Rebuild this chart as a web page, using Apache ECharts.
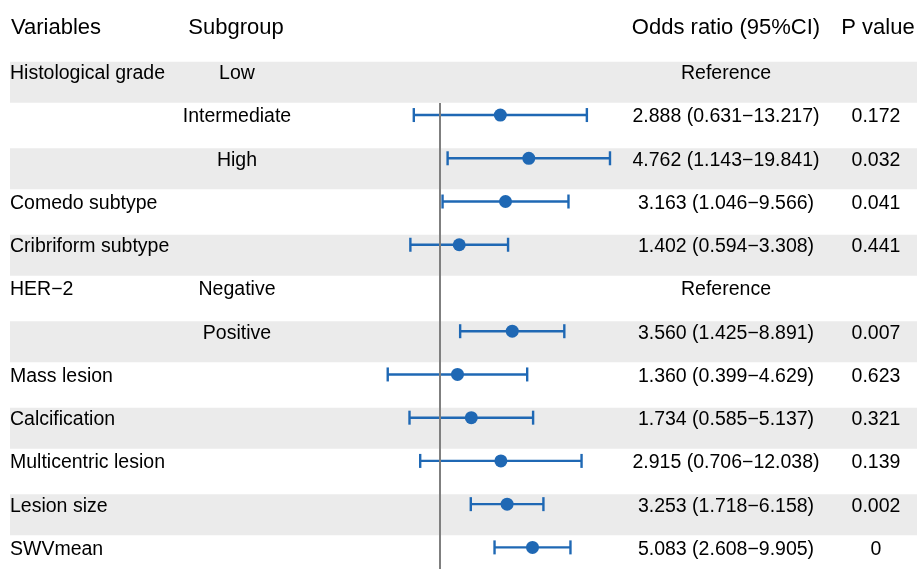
<!DOCTYPE html>
<html>
<head>
<meta charset="utf-8">
<script src="https://cdn.jsdelivr.net/npm/echarts@6/dist/echarts.min.js"></script>
<style>
  html, body { margin: 0; padding: 0; background: #fff; }
  #chart { width: 917px; height: 569px; }
</style>
</head>
<body>
<div id="chart"></div>
<script>
// Forest plot: multivariable logistic regression, odds ratios with 95% CI
const variables = ['Histological grade', '', '', 'Comedo subtype', 'Cribriform subtype', 'HER\u22122', '',
  'Mass lesion', 'Calcification', 'Multicentric lesion', 'Lesion size', 'SWVmean'];
const subgroups = ['Low', 'Intermediate', 'High', '', '', 'Negative', 'Positive', '', '', '', '', ''];
const oddsRatio = [null, 2.888, 4.762, 3.163, 1.402, null, 3.560, 1.360, 1.734, 2.915, 3.253, 5.083];
const ciLower   = [null, 0.631, 1.143, 1.046, 0.594, null, 1.425, 0.399, 0.585, 0.706, 1.718, 2.608];
const ciUpper   = [null, 13.217, 19.841, 9.566, 3.308, null, 8.891, 4.629, 5.137, 12.038, 6.158, 9.905];
const pValues   = ['', '0.172', '0.032', '0.041', '0.441', '', '0.007', '0.623', '0.321', '0.139', '0.002', '0'];
const headers   = ['Variables', 'Subgroup', 'Odds ratio (95%CI)', 'P value'];

// column anchors (px)
const COL_VAR = 10, COL_SUB = 237, COL_OR = 726, COL_P = 876;
const HEAD_X = [11, 236, 726, 878];
const FONT = '"Liberation Sans", Arial, Helvetica, sans-serif';
const BODY_SIZE = 19.5, HEAD_SIZE = 22;
const BLUE = '#1f68b4';
const SHADE = '#ebebeb';

const rowIdx = variables.map((_, i) => String(i));

function orText(i) {
  if (oddsRatio[i] == null) return 'Reference';
  return oddsRatio[i].toFixed(3) + ' (' + ciLower[i].toFixed(3) + '\u2212' + ciUpper[i].toFixed(3) + ')';
}

const chart = echarts.init(document.getElementById('chart'), null, { renderer: 'canvas' });

const txt = (x, y, s, align, size) => ({
  type: 'text',
  style: { x: x, y: y, text: s, align: align, verticalAlign: 'middle',
           font: size + 'px ' + FONT, fill: '#000' }
});

chart.setOption({
  animation: false,
  grid: { left: 309, width: 393, top: 50.2, height: 523.2 },
  xAxis: { type: 'log', logBase: 10, min: 0.1, max: 100, show: false },
  yAxis: { type: 'category', data: rowIdx, inverse: true, show: false },
  graphic: headers.map((h, k) => ({
    type: 'text',
    x: HEAD_X[k],
    y: 28,
    style: { text: h, align: k === 0 ? 'left' : 'center', verticalAlign: 'middle',
             font: HEAD_SIZE + 'px ' + FONT, fill: '#000' }
  })),
  series: [
    {
      // table rows: alternating shading + text columns
      type: 'custom',
      clip: false,
      z: 1,
      data: rowIdx.map((_, i) => [1, i]),
      renderItem: function (params, api) {
        const i = api.value(1);
        const cy = api.coord([1, i])[1];
        const top = cy - 10;
        const children = [];
        if (i % 2 === 0) {
          children.push({ type: 'rect', shape: { x: 10, y: top, width: 907, height: 41 },
                          style: { fill: SHADE } });
        }
        const ty = cy + 2;
        if (variables[i]) children.push(txt(COL_VAR, ty, variables[i], 'left', BODY_SIZE));
        if (subgroups[i]) children.push(txt(COL_SUB, ty, subgroups[i], 'center', BODY_SIZE));
        children.push(txt(COL_OR, ty, orText(i), 'center', BODY_SIZE));
        if (pValues[i]) children.push(txt(COL_P, ty, pValues[i], 'center', BODY_SIZE));
        return { type: 'group', children: children };
      }
    },
    {
      // confidence interval whiskers
      type: 'custom',
      clip: false,
      z: 3,
      data: rowIdx.map((_, i) => [ciLower[i], ciUpper[i], i]).filter(d => d[0] != null),
      encode: { x: [0, 1], y: 2 },
      renderItem: function (params, api) {
        const i = api.value(2);
        const a = api.coord([api.value(0), i]);
        const b = api.coord([api.value(1), i]);
        const st = { stroke: BLUE, lineWidth: 2.4 };
        return {
          type: 'group',
          children: [
            { type: 'line', shape: { x1: a[0], y1: a[1], x2: b[0], y2: b[1] }, style: st },
            { type: 'line', shape: { x1: a[0], y1: a[1] - 7, x2: a[0], y2: a[1] + 7 }, style: st },
            { type: 'line', shape: { x1: b[0], y1: b[1] - 7, x2: b[0], y2: b[1] + 7 }, style: st }
          ]
        };
      }
    },
    {
      // point estimates
      type: 'scatter',
      z: 4,
      symbol: 'circle',
      symbolSize: 13,
      itemStyle: { color: BLUE, opacity: 1 },
      data: rowIdx.map((_, i) => [oddsRatio[i], i]).filter(d => d[0] != null)
    },
    {
      // line of no effect (OR = 1)
      type: 'custom',
      clip: false,
      z: 5,
      data: [[1, 1, variables.length - 1]],
      renderItem: function (params, api) {
        const p1 = api.coord([api.value(0), api.value(1)]);
        const p2 = api.coord([api.value(0), api.value(2)]);
        return { type: 'line', shape: { x1: p1[0], y1: p1[1] - 12, x2: p2[0], y2: p2[1] + 40 },
                 style: { stroke: '#7f7f7f', lineWidth: 2 } };
      }
    }
  ]
});
</script>
</body>
</html>
